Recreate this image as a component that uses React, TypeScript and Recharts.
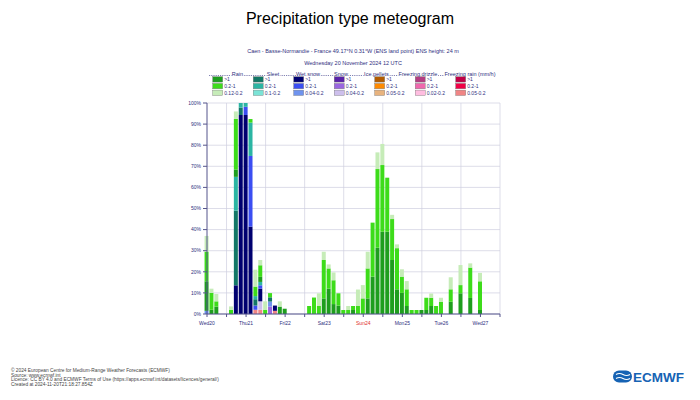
import React from 'react';
import { BarChart, Bar, XAxis, YAxis, CartesianGrid } from 'recharts';

// forecast steps, hours after Wed 20 Nov 2024 12 UTC (3-hourly to +144h, then 6-hourly)
const hours = [
  0, 3, 6, 9, 12, 15, 18, 21,
  24, 27, 30, 33, 36, 39, 42, 45,
  48, 51, 54, 57, 60, 63, 66, 69,
  72, 75, 78, 81, 84, 87, 90, 93,
  96, 99, 102, 105, 108, 111, 114, 117,
  120, 123, 126, 129, 132, 135, 138, 141,
  144, 150, 156, 162, 168,
];

// rain probabilities (%), one value per step
const rainHeavy = [
  14, 2, 3.5, 0, 0, 0, 3.5, 0,
  0, 0, 0, 2.4, 0, 0, 0, 3.5,
  2.5, 0, 0, 0, 0, 0, 0, 0,
  7.4, 12, 4.7, 4, 0, 0, 1.9, 0,
  0, 7.4, 17.7, 31.4, 39, 39, 25.6, 11.7,
  10, 3.8, 0, 0, 1.9, 1.9, 3.8, 0,
  0, 5.8, 9.8, 7.6, 1.9,
];
const rainMid = [
  14, 8, 2.5, 0, 0, 2, 24, 0,
  0, 1.7, 4.5, 5.5, 2, 2, 0, 0,
  0, 0, 0, 0, 0, 3.8, 7.8, 3.8,
  18.2, 9.6, 11.3, 5.8, 1.9, 1.9, 1.9, 3.8,
  7.4, 14.2, 25.6, 37.3, 31.6, 25.6, 19.4, 19.5,
  7.7, 7.9, 1.9, 1.9, 0, 5.8, 3.9, 3.8,
  5.8, 5.9, 3.9, 14.4, 13.6,
];
const rainLow = [
  7.5, 2, 3.5, 0, 0, 1.6, 3.5, 0,
  0, 0, 8, 2.5, 4, 0, 0, 2.5,
  0, 0, 0, 0, 0, 0, 0, 6,
  3.9, 1.9, 3.7, 0, 0, 1.9, 0, 7.8,
  6.3, 7.9, 0, 7.9, 10, 0, 2, 1.8,
  3.5, 3.9, 0, 0, 0, 0, 2, 0,
  1.9, 5.7, 9.5, 2, 4,
];

// the other types only occur at a few steps: [hour, probability %]
const sleetHeavy = [[18, 35.4], [21, 3.5], [30, 3], [39, 2]];
const sleetMid = [[18, 16], [21, 2.2], [24, 1.8], [27, 15.8], [30, 1.5], [33, 1.6]];
const wetSnowHeavy = [[18, 13.6], [21, 94.3], [24, 94.3], [27, 41.4], [33, 6], [42, 2.5]];
const wetSnowMid = [[24, 3.9], [27, 33.5], [30, 2], [33, 1.6]];
const wetSnowLow = [[0, 1.5], [39, 2.4]];
const snowMid = [[39, 3.5]];
const snowLow = [[33, 4]];
const freezingRainLow = [[30, 2], [33, 2], [42, 1.5]];

const dayTicks = [0, 24, 48, 72, 96, 120, 144, 168];
const dayLabels = ['Wed20', 'Thu21', 'Fri22', 'Sat23', 'Sun24', 'Mon25', 'Tue26', 'Wed27'];
const axisTicks = [0, 12, 24, 36, 48, 60, 72, 84, 96, 108, 120, 132, 144, 156, 168, 180];
const gridHours = [12, 36, 60, 84, 108, 132, 156, 180];
const pctTicks = [0, 10, 20, 30, 40, 50, 60, 70, 80, 90, 100];

const C = {
  rain: ['#1e9e1e', '#3ddc1a', '#c6ecb8'],
  sleet: ['#137766', '#2bb5a3', '#7be3d6'],
  wetSnow: ['#000070', '#3b4ef2', '#6f93ee'],
  snow: ['#5a22a8', '#9a66e0', '#cdbfec'],
  ice: ['#b35c00', '#ff8a00', '#e8b37e'],
  drizzle: ['#b33d82', '#f068ae', '#ffbde0'],
  frzRain: ['#c00046', '#f00046', '#f08585'],
};

const legendGroups = [
  { title: 'Rain', hx: 237.5, colors: C.rain, labels: ['>1', '0.2-1', '0.12-0.2'] },
  { title: 'Sleet', hx: 273, colors: C.sleet, labels: ['>1', '0.2-1', '0.1-0.2'] },
  { title: 'Wet snow', hx: 308, colors: C.wetSnow, labels: ['>1', '0.2-1', '0.04-0.2'] },
  { title: 'Snow', hx: 341, colors: C.snow, labels: ['>1', '0.2-1', '0.04-0.2'] },
  { title: 'Ice pellets', hx: 376.5, colors: C.ice, labels: ['>1', '0.2-1', '0.05-0.2'] },
  { title: 'Freezing drizzle', hx: 418, colors: C.drizzle, labels: ['>1', '0.2-1', '0.02-0.2'] },
  { title: 'Freezing rain (mm/h)', hx: 470, colors: C.frzRain, labels: ['>1', '0.2-1', '0.05-0.2'] },
];

const footer = [
  '\u00a9 2024 European Centre for Medium-Range Weather Forecasts (ECMWF)',
  'Source: www.ecmwf.int',
  'Licence: CC BY 4.0 and ECMWF Terms of Use (https://apps.ecmwf.int/datasets/licences/general/)',
  'Created at 2024-11-20T21:18:27.854Z',
];

const sparse = (pairs: number[][]) =>
  hours.map(h => {
    const p = pairs.find(q => q[0] === h);
    return p ? p[1] : 0;
  });

// bottom of the stack first
const series = [
  { key: 'frzRainLow', values: sparse(freezingRainLow), color: C.frzRain[2] },
  { key: 'snowMid', values: sparse(snowMid), color: C.snow[1] },
  { key: 'snowLow', values: sparse(snowLow), color: C.snow[2] },
  { key: 'wetSnowHeavy', values: sparse(wetSnowHeavy), color: C.wetSnow[0] },
  { key: 'wetSnowMid', values: sparse(wetSnowMid), color: C.wetSnow[1] },
  { key: 'wetSnowLow', values: sparse(wetSnowLow), color: C.wetSnow[2] },
  { key: 'sleetHeavy', values: sparse(sleetHeavy), color: C.sleet[0] },
  { key: 'sleetMid', values: sparse(sleetMid), color: C.sleet[1] },
  { key: 'rainHeavy', values: rainHeavy, color: C.rain[0] },
  { key: 'rainMid', values: rainMid, color: C.rain[1] },
  { key: 'rainLow', values: rainLow, color: C.rain[2] },
];

const data = hours.map((h, i) => {
  const row: Record<string, number> = { h };
  series.forEach(s => { row[s.key] = s.values[i]; });
  return row;
});

const FONT = '"Liberation Sans", Arial, sans-serif';
const NAVY = '#2f2f80';
const AXIS = '#55558c';

const XTick = (props: any) => {
  const { x, y, payload } = props;
  const i = dayTicks.indexOf(payload.value);
  if (i < 0) return null;
  return (
    <text x={x} y={y + 6} textAnchor="middle" fontSize={5} fontFamily={FONT}
      fill={dayLabels[i] === 'Sun24' ? '#e0302a' : NAVY}>
      {dayLabels[i]}
    </text>
  );
};

const Overlay = () => (
  <svg width={700} height={400} style={{ position: 'absolute', left: 0, top: 0, pointerEvents: 'none' }}
    fontFamily={FONT}>
    <text x={350} y={24} textAnchor="middle" fontSize={16} fill="#000">Precipitation type meteogram</text>
    <text x={353} y={53} textAnchor="middle" fontSize={5.5} fill={NAVY}>
      Caen - Basse-Normandie - France 49.17°N 0.31°W (ENS land point) ENS height: 24 m
    </text>
    <text x={353} y={65} textAnchor="middle" fontSize={5.5} fill={NAVY}>
      Wednesday 20 November 2024 12 UTC
    </text>

    <line x1={209} x2={444} y1={75.5} y2={75.5} stroke={NAVY} strokeWidth={0.6} strokeDasharray="1.2 1" />
    {legendGroups.map((g, gi) => {
      const x0 = 212.7 + gi * 40.5;
      return (
        <g key={g.title}>
          <text x={g.hx} y={76} textAnchor="middle" fontSize={5.5} fill={NAVY}
            stroke="#fff" strokeWidth={1.6} paintOrder="stroke">{g.title}</text>
          {g.colors.map((c, ri) => (
            <g key={ri}>
              <rect x={x0} y={76.7 + ri * 6.7} width={10} height={5.4} fill={c} stroke="#777" strokeWidth={0.4} />
              <text x={x0 + 11.5} y={81.2 + ri * 6.7} fontSize={5} fill={NAVY}>{g.labels[ri]}</text>
            </g>
          ))}
        </g>
      );
    })}

    {footer.map((t, i) => (
      <text key={i} x={11} y={372 + i * 4.6} fontSize={4.8} fill="#444">{t}</text>
    ))}

    <rect x={613} y={370.5} width={19} height={12} rx={6} fill="#1663b4" />
    <path d="M616 374.5 q3.5 -2 7 0 t7 0" stroke="#fff" strokeWidth={1.2} fill="none" />
    <path d="M616 378.5 q3.5 -2 7 0 t7 0" stroke="#fff" strokeWidth={1.2} fill="none" />
    <text x={633} y={381.5} fontSize={13.5} fontWeight="bold" fill="#1663b4">ECMWF</text>
  </svg>
);

export default function App() {
  return (
    <div style={{ position: 'absolute', left: 0, top: 0, width: 700, height: 400, background: '#fff' }}>
      <BarChart width={700} height={400} data={data}
        margin={{ top: 103, right: 200, bottom: 66, left: 177 }}>
        <CartesianGrid stroke="#cfcfe0" strokeWidth={0.7}
          verticalCoordinatesGenerator={({ xAxis, offset }: any) =>
            gridHours.map(h => (xAxis && typeof xAxis.scale === 'function'
              ? xAxis.scale(h)
              : offset.left + (h / 180) * offset.width))} />
        <XAxis dataKey="h" type="number" domain={[0, 180]} ticks={axisTicks} interval={0}
          stroke={AXIS} tickSize={3} height={20} tick={<XTick />} />
        <YAxis type="number" domain={[0, 100]} ticks={pctTicks} interval={0} width={30}
          stroke={AXIS} tickSize={4} tickFormatter={(v: number) => `${v}%`}
          tick={{ fontSize: 5, fill: NAVY, fontFamily: FONT }} />
        {series.map(s => (
          <Bar key={s.key} dataKey={s.key} stackId="p" fill={s.color} barSize={4}
            isAnimationActive={false} />
        ))}
      </BarChart>
      <Overlay />
    </div>
  );
}
